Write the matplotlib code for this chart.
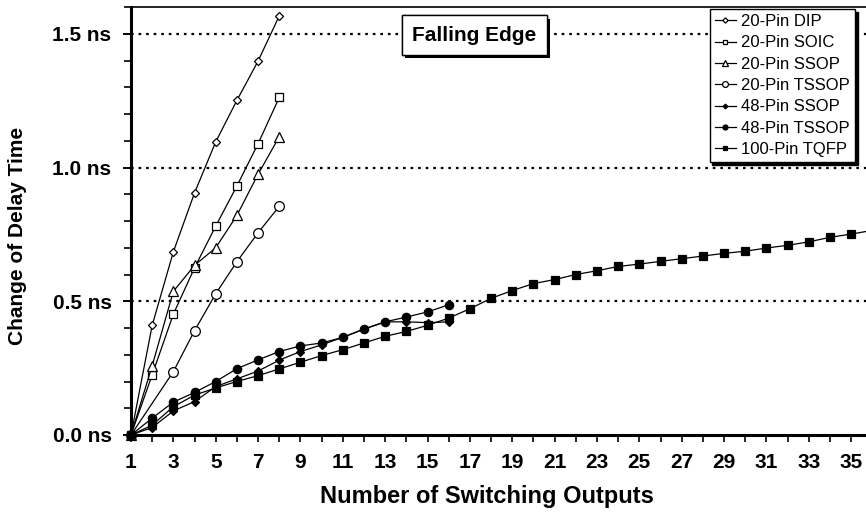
import matplotlib.pyplot as plt
import matplotlib.patheffects as pe
from matplotlib.ticker import MultipleLocator, FixedLocator, FuncFormatter

plt.rcParams['font.family'] = ['Liberation Sans', 'DejaVu Sans']

# switching outputs for each package
n_dip = [1, 2, 3, 4, 5, 6, 7, 8]
n_soic = [1, 2, 3, 4, 5, 6, 7, 8]
n_ssop20 = [1, 2, 3, 4, 5, 6, 7, 8]
n_tssop20 = [1, 3, 4, 5, 6, 7, 8]
n_ssop48 = list(range(1, 17))
n_tssop48 = list(range(1, 17))
n_tqfp = list(range(1, 37))

# change of delay time (ns)
dip = [0, 0.41, 0.685, 0.905, 1.096, 1.251, 1.398, 1.567]
soic = [0, 0.225, 0.452, 0.625, 0.781, 0.931, 1.089, 1.262]
ssop20 = [0, 0.259, 0.537, 0.634, 0.70, 0.821, 0.975, 1.115]
tssop20 = [0, 0.237, 0.39, 0.528, 0.648, 0.756, 0.855]
ssop48 = [0, 0.028, 0.09, 0.125, 0.181, 0.21, 0.239, 0.28, 0.312, 0.337,
          0.365, 0.396, 0.423, 0.423, 0.42, 0.423]
tssop48 = [0, 0.063, 0.123, 0.159, 0.2, 0.248, 0.281, 0.312, 0.333, 0.344,
           0.365, 0.396, 0.423, 0.441, 0.46, 0.487]
tqfp = [0, 0.037, 0.106, 0.149, 0.176, 0.2, 0.222, 0.247, 0.272, 0.297,
        0.319, 0.344, 0.369, 0.387, 0.41, 0.437, 0.472, 0.511, 0.54, 0.566,
        0.581, 0.6, 0.614, 0.63, 0.639, 0.649, 0.659, 0.669, 0.679, 0.687,
        0.699, 0.709, 0.722, 0.739, 0.751, 0.765]

series = [
    ('20-Pin DIP', n_dip, dip, 'D', 'white', 4.5),
    ('20-Pin SOIC', n_soic, soic, 's', 'white', 6),
    ('20-Pin SSOP', n_ssop20, ssop20, '^', 'white', 6.5),
    ('20-Pin TSSOP', n_tssop20, tssop20, 'o', 'white', 7),
    ('48-Pin SSOP', n_ssop48, ssop48, 'D', 'black', 4),
    ('48-Pin TSSOP', n_tssop48, tssop48, 'o', 'black', 6),
    ('100-Pin TQFP', n_tqfp, tqfp, 's', 'black', 5.5),
]

W, H = 866, 515
fig = plt.figure(figsize=(W / 100, H / 100), dpi=100)
ax = fig.add_axes([131 / W, 1 - 435 / H, (W - 131) / W, (435 - 7) / H])

for y in [0.5, 1.0, 1.5]:
    ax.axhline(y, color='black', lw=1.6, ls=(0, (1.2, 2.2)), zorder=1)

for label, xs, ys, m, fc, ms in series:
    ax.plot(xs, ys, color='black', lw=0.9, marker=m, markersize=ms,
            markerfacecolor=fc, markeredgecolor='black', markeredgewidth=0.9,
            label=label, zorder=3, clip_on=False if xs[-1] < 30 else True)

ax.set_xlim(1, 35.7)
ax.set_ylim(0, 1.6)

ax.xaxis.set_major_locator(FixedLocator(range(1, 37, 2)))
ax.xaxis.set_minor_locator(MultipleLocator(1))
ax.yaxis.set_major_locator(MultipleLocator(0.5))
ax.yaxis.set_minor_locator(MultipleLocator(0.1))
ax.yaxis.set_major_formatter(FuncFormatter(lambda v, p: f'{v:.1f} ns'))

ax.tick_params(axis='x', which='both', direction='out', length=5, width=1.2,
               labelsize=15, pad=8)
ax.tick_params(axis='y', which='major', direction='out', length=6, width=1.4,
               labelsize=15, pad=8)
ax.tick_params(axis='y', which='minor', direction='out', length=5, width=1.2)
for lab in ax.get_xticklabels() + ax.get_yticklabels():
    lab.set_fontweight('bold')

for s in ['left', 'bottom']:
    ax.spines[s].set_linewidth(2.2)
ax.spines['top'].set_linewidth(1.2)
ax.spines['right'].set_visible(False)

fig.text(487 / W, 1 - 496 / H, 'Number of Switching Outputs', fontsize=17,
         fontweight='bold', ha='center', va='center')
fig.text(18 / W, 1 - 236 / H, 'Change of Delay Time', fontsize=15,
         fontweight='bold', ha='center', va='center', rotation=90)

leg = ax.legend(loc='upper right', bbox_to_anchor=(0.985, 0.995), fontsize=12,
                frameon=True, fancybox=False, edgecolor='black',
                shadow={'color': 'black', 'alpha': 1}, framealpha=1,
                handlelength=1.3, handletextpad=0.3, borderpad=0.3,
                labelspacing=0.38, markerscale=0.6, borderaxespad=0)
leg.get_frame().set_linewidth(1.0)

txt = ax.text(17.2, 1.495, 'Falling Edge', fontsize=15, fontweight='bold',
              ha='center', va='center', zorder=5,
              bbox=dict(boxstyle='square,pad=0.5', facecolor='white',
                        edgecolor='black', linewidth=1.0))
txt.get_bbox_patch().set_path_effects([
    pe.withSimplePatchShadow(offset=(2.5, -2.5), shadow_rgbFace='black', alpha=1),
    pe.Normal()])

fig.savefig('out.png', dpi=100)
